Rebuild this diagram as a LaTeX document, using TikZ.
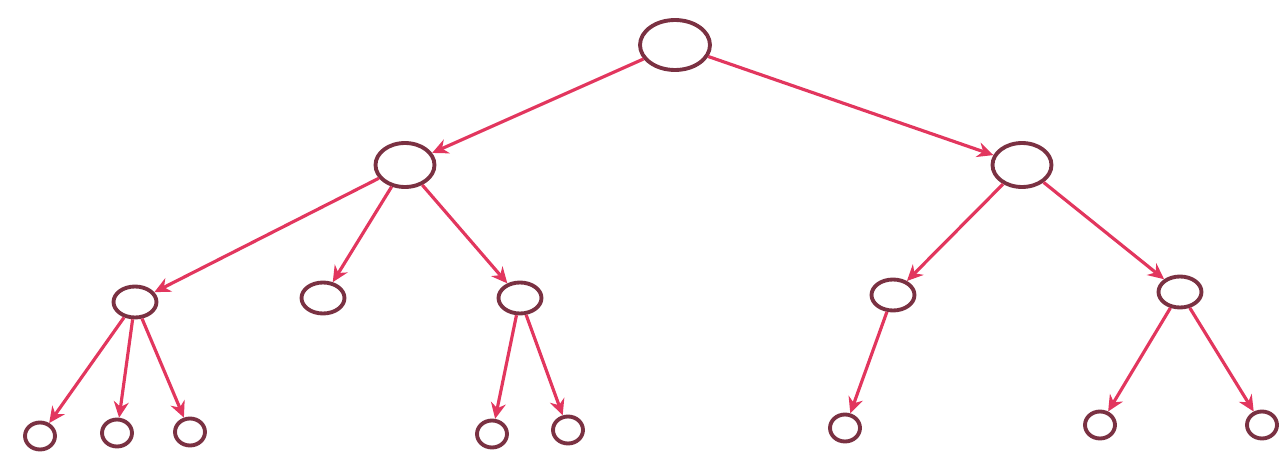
\documentclass[tikz,border=0pt]{standalone}
\usepackage{tikz}
\usetikzlibrary{arrows.meta, shapes.geometric}
\definecolor{sketchred}{HTML}{E2365E}
\definecolor{sketchrim}{HTML}{7A3142}
\tikzset{
  sketch node/.style={
    ellipse,
    draw=sketchrim,
    line width=2.2pt,
    inner sep=0pt,
    fill=white
  },
  sketch root/.style={sketch node, minimum width=1.40cm, minimum height=1.00cm},
  sketch mid/.style={sketch node, minimum width=1.18cm, minimum height=0.88cm},
  sketch low/.style={sketch node, minimum width=0.86cm, minimum height=0.62cm},
  sketch leaf/.style={sketch node, minimum width=0.60cm, minimum height=0.54cm},
  sketch arrow/.style={
    -{Stealth[length=3.2mm,width=3mm]},
    line width=1.8pt,
    draw=sketchred
  }
}

\begin{document}
\begin{tikzpicture}[x=0.02cm,y=-0.02cm]
\useasboundingbox (0,0) rectangle (1286,453);

\node[sketch root] (root) at (675,45) {};

\node[sketch mid] (left) at (405,165) {};
\node[sketch mid] (right) at (1022,165) {};

\node[sketch low] (la) at (135,302) {};
\node[sketch low] (lb) at (323,298) {};
\node[sketch low] (lc) at (520,298) {};
\node[sketch low] (rd) at (893,295) {};
\node[sketch low] (re) at (1180,292) {};

\node[sketch leaf] (la1) at (40,436) {};
\node[sketch leaf] (la2) at (117,433) {};
\node[sketch leaf] (la3) at (190,432) {};
\node[sketch leaf] (lc1) at (492,434) {};
\node[sketch leaf] (lc2) at (568,430) {};
\node[sketch leaf] (rd1) at (845,428) {};
\node[sketch leaf] (re1) at (1100,425) {};
\node[sketch leaf] (re2) at (1262,425) {};

\draw[sketch arrow] (root) -- (left);
\draw[sketch arrow] (root) -- (right);

\draw[sketch arrow] (left) -- (la);
\draw[sketch arrow] (left) -- (lb);
\draw[sketch arrow] (left) -- (lc);
\draw[sketch arrow] (right) -- (rd);
\draw[sketch arrow] (right) -- (re);

\draw[sketch arrow] (la) -- (la1);
\draw[sketch arrow] (la) -- (la2);
\draw[sketch arrow] (la) -- (la3);
\draw[sketch arrow] (lc) -- (lc1);
\draw[sketch arrow] (lc) -- (lc2);
\draw[sketch arrow] (rd) -- (rd1);
\draw[sketch arrow] (re) -- (re1);
\draw[sketch arrow] (re) -- (re2);
\end{tikzpicture}
\end{document}
